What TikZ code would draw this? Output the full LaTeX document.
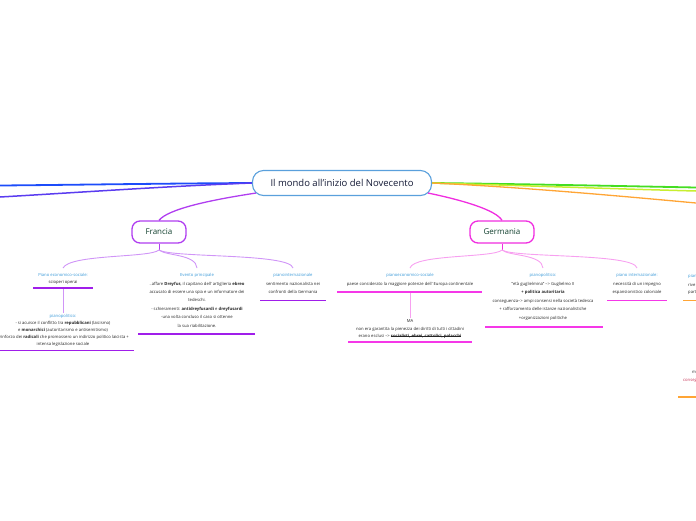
\documentclass[tikz,border=0pt]{standalone}
\usepackage{fontspec}
\setmainfont{Open Sans}
\newcommand\mystrike[1]{\setbox0\hbox{#1}\rlap{\rule[0.6ex]{\wd0}{0.3pt}}\box0}
\definecolor{rootb}{HTML}{5AA0DC}
\definecolor{roott}{HTML}{141A36}
\definecolor{frc}{HTML}{B03EF0}
\definecolor{frl}{HTML}{D095F7}
\definecolor{fru}{HTML}{A01EEA}
\definecolor{dec}{HTML}{F02EE0}
\definecolor{del}{HTML}{F7A0F0}
\definecolor{deu}{HTML}{F538E8}
\definecolor{ttl}{HTML}{3C9AD8}
\definecolor{bodyc}{HTML}{262626}
\definecolor{nodet}{HTML}{12402F}
\definecolor{blueA}{HTML}{1C4CFA}
\definecolor{blueB}{HTML}{5A3CF0}
\definecolor{grn}{HTML}{44DD22}
\definecolor{ylw}{HTML}{C8EE30}
\definecolor{org}{HTML}{FFA535}
\definecolor{redt}{HTML}{C8385A}
\begin{document}
\begin{tikzpicture}[x=1pt,y=-1pt,
  rootbox/.style={draw=rootb, line width=1.1pt, rounded corners=11pt, minimum width=179pt, minimum height=25pt, fill=white, text=roott, font=\fontsize{9.5}{11}\selectfont},
  topic/.style={draw=#1, line width=1.3pt, rounded corners=8pt, minimum height=22pt, fill=white, text=nodet, font=\fontsize{8}{9}\selectfont},
  blk/.style={align=center, inner xsep=0pt, outer sep=0pt, anchor=north, text=bodyc, font=\fontsize{4.2}{#1}\selectfont},
  frag/.style={anchor=west, inner sep=0pt, font=\fontsize{4.2}{5}\selectfont},
  mainline/.style={line width=1.3pt},
  branch/.style={line width=0.9pt},
  uline/.style={line width=1.5pt}]
\useasboundingbox (0,0) rectangle (696,520);
\clip (0,0) rectangle (696,520);

% main nodes
\node[rootbox] (root) at (342,183) {Il mondo all'inizio del Novecento};
\node[topic=frc, minimum width=54pt] (fr) at (159,232) {Francia};
\node[topic=dec, minimum width=64pt] (de) at (502,232) {Germania};

% free ends at the picture edges
\coordinate (L1) at (0,185.5);
\coordinate (L2) at (0,197);
\coordinate (R1) at (696,187.5);
\coordinate (R2) at (696,191);
\coordinate (R3) at (696,203);

\draw[blueA, line width=1.8pt] (root.west) .. controls (160,183.5) and (60,185) .. (L1);
\draw[blueB, line width=1.5pt] (root.west) .. controls (170,186) and (70,193) .. (L2);
\draw[grn, line width=1.8pt] (root.east) .. controls (520,184) and (620,186) .. (R1);
\draw[ylw, line width=1.5pt] (root.east) .. controls (520,185.5) and (620,189) .. (R2);
\draw[org, line width=1.3pt] (root.east) .. controls (520,187) and (620,196) .. (R3);

\draw[frc, mainline] ([xshift=4pt,yshift=3pt]root.south west) .. controls (210,200) and (168,209) .. (fr.north);
\draw[dec, mainline] ([xshift=-4pt,yshift=3pt]root.south east) .. controls (462,200) and (496,210) .. (de.north);

% Francia children
\coordinate (fs) at (159,250);
\node[blk=6.8, inner ysep=5.5pt] (fe) at (63,268) {\textcolor{ttl}{Piano economico-sociale:}\\scioperi operai};
\node[blk=8.4, inner ysep=5.5pt] (fev) at (197,268) {\textcolor{ttl}{Evento principale}\\
 ..affare \textbf{Dreyfus}, il capitano dell' artiglieria \textbf{ebreo}\\
 accusato di essere una spia e un informatore dei\\
 tedeschi.\\
 - schieramenti: \textbf{antidreyfusardi} e \textbf{dreyfusardi}\\
 -una volta concluso il caso si ottenne\\
 la sua riabilitazione.};
\node[blk=8.4, inner ysep=5.5pt] (fin) at (293,268) {\textcolor{ttl}{pianointernazionale}\\sentimento nazionalista nei\\confronti della Germania};

\draw[frc, branch] (fr.south) -- (fs);
\draw[frl, branch] (fs) .. controls (150,258) and (70,254) .. (fe.north);
\draw[frl, branch] (fs) .. controls (166,256) and (196,254) .. (fev.north);
\draw[frl, branch] (fs) .. controls (172,258) and (290,253) .. (fin.north);

\coordinate (fea) at (33,288);
\coordinate (feb) at (93,288);
\coordinate (fem) at (63,289);
\draw[fru, uline] (fea) -- (feb);
\node[blk=6.9, inner ysep=1.5pt] (fpp) at (63,313) {\textcolor{ttl}{pianopolitico:}\\
 - si acuisce il conflitto tra \textbf{repubblicani} (laicismo)\\
 e \textbf{monarchici} (autoritarismo e antisemitismo)\\
 - rinforzo dei \textbf{radicali} che promossero un indirizzo politico laicista +\\
 intensa legislazione sociale};
\draw[frl, branch] (fem) -- (fpp.north);
\coordinate (fpa) at (0,350.5);
\coordinate (fpb) at (134,350.5);
\draw[fru, uline] (fpa) -- (fpb);
\coordinate (fva) at (138,334);
\coordinate (fvb) at (255,334);
\draw[fru, uline] (fva) -- (fvb);
\coordinate (fia) at (260,300.5);
\coordinate (fib) at (326,300.5);
\draw[fru, uline] (fia) -- (fib);

% Germania children
\coordinate (ds) at (502,250);
\node[blk=8.4, inner ysep=5.5pt] (ge) at (410,268) {\textcolor{ttl}{pianoeconomico-sociale}\\paese considerato la maggiore potenze dell' Europa continentale};
\node[blk=8.5, inner ysep=5.5pt] (gp) at (543,268) {\textcolor{ttl}{pianopolitico:}\\
 "età guglielmina" --> Guglielmo II\\
 \textbf{+ politica autoritaria}\\
 conseguenza--> ampi consensi nella società tedesca\\
 + rafforzamento delle istanze nazionalistiche\\
 +organizzazioni politiche};
\node[blk=8.4, inner ysep=5.5pt] (gi) at (637,268) {\textcolor{ttl}{piano internazionale:}\\necessità di un impegno\\espansionistico coloniale};

\draw[dec, branch] (de.south) -- (ds);
\draw[del, branch] (ds) .. controls (494,258) and (414,254) .. (ge.north);
\draw[del, branch] (ds) .. controls (508,256) and (542,254) .. (gp.north);
\draw[del, branch] (ds) .. controls (514,258) and (634,253) .. (gi.north);

\coordinate (gea) at (337,292);
\coordinate (geb) at (482,292);
\coordinate (gem) at (410,293);
\draw[deu, uline] (gea) -- (geb);
\node[blk=7.5, inner ysep=1.5pt] (gma) at (410,318) {MA\\
 non era garantita la pienezza dei diritti di tutti i cittadini\\
 erano esclusi --> \textbf{\mystrike{socialisti, ebrei, cattolici, polacchi}}};
\draw[del, branch] (gem) -- (gma.north);
\coordinate (gaa) at (348,342);
\coordinate (gab) at (472,342);
\draw[deu, uline] (gaa) -- (gab);
\coordinate (gpa) at (485,327);
\coordinate (gpb) at (603,327);
\draw[deu, uline] (gpa) -- (gpb);
\coordinate (gia) at (607,300.5);
\coordinate (gib) at (667,300.5);
\draw[deu, uline] (gia) -- (gib);

% fragments at the right edge
\node[frag, text=ttl] (x1) at (688,276) {pian};
\node[frag, text=bodyc] (x2) at (688,285) {rive};
\node[frag, text=bodyc] (x3) at (688,293) {part};
\coordinate (o1a) at (683,300.5);
\coordinate (o1b) at (696,300.5);
\draw[org, uline] (o1a) -- (o1b);
\node[frag, text=bodyc] (x4) at (692,372) {m};
\node[frag, text=redt] (x5) at (683,381) {conseg};
\coordinate (o2a) at (678,397);
\coordinate (o2b) at (696,397);
\draw[org, uline] (o2a) -- (o2b);
\end{tikzpicture}
\end{document}
